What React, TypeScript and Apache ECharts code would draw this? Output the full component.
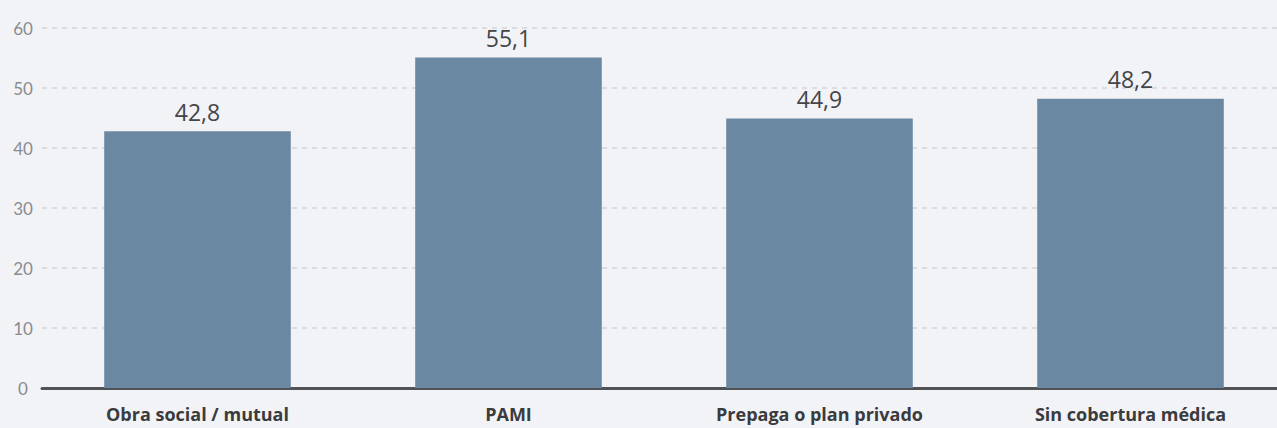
import React, { useEffect, useRef } from "react";
import * as echarts from "echarts";

const categories = ["Obra social / mutual", "PAMI", "Prepaga o plan privado", "Sin cobertura médica"];
const values = [42.8, 55.1, 44.9, 48.2];

export default function App() {
  const ref = useRef<HTMLDivElement>(null);
  useEffect(() => {
    document.body.style.margin = "0";
    const chart = echarts.init(ref.current!, null, { renderer: "svg" });
    chart.setOption({
      animation: false,
      backgroundColor: "#f2f3f7",
      grid: { left: 42, right: 0, top: 28, bottom: 40, containLabel: false },
      xAxis: {
        type: "category",
        data: categories,
        axisTick: { show: false },
        axisLine: { lineStyle: { color: "#505255", width: 3 } },
        axisLabel: {
          color: "#3a3b3d",
          fontFamily: "Open Sans",
          fontWeight: "bold",
          fontSize: 18,
          margin: 17,
        },
      },
      yAxis: {
        type: "value",
        min: 0,
        max: 60,
        interval: 10,
        axisLine: { show: false },
        axisTick: { show: false },
        splitLine: { lineStyle: { color: "#d3d5da", type: [5, 5], width: 1.5 } },
        axisLabel: {
          color: "#8a8b8e",
          fontFamily: "Lato",
          fontSize: 17,
          align: "center",
          margin: 19,
        },
      },
      series: [
        {
          type: "bar",
          data: values,
          barWidth: "60%",
          itemStyle: { color: "#6b88a3" },
          label: {
            show: true,
            position: "top",
            distance: 8,
            color: "#444548",
            fontFamily: "Open Sans",
            fontSize: 23,
            formatter: (p: any) => String(p.value).replace(".", ","),
          },
        },
      ],
    });
    return () => chart.dispose();
  }, []);
  return (
    <div style={{ width: 1277, height: 428, overflow: "hidden", position: "relative" }}>
      <div ref={ref} style={{ width: 1286, height: 428 }} />
    </div>
  );
}
